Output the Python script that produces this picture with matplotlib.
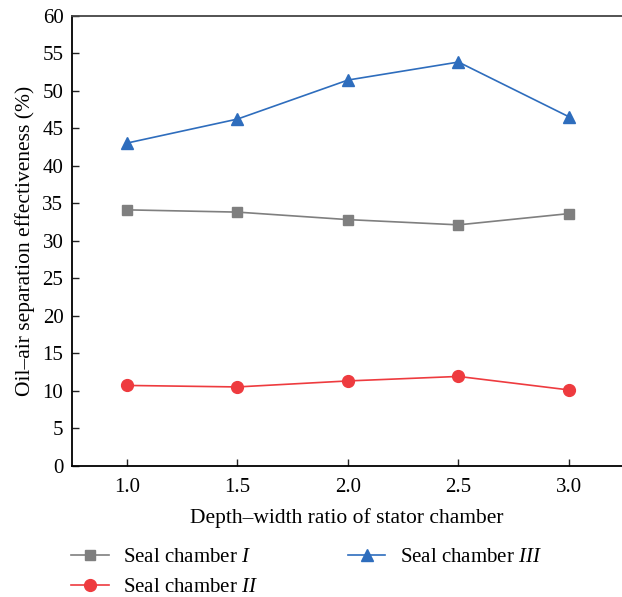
import matplotlib
matplotlib.use("Agg")
import matplotlib.pyplot as plt

plt.rcParams['font.family'] = ['Liberation Serif', 'DejaVu Serif']
plt.rcParams['mathtext.fontset'] = 'custom'
plt.rcParams['mathtext.rm'] = 'Liberation Serif'
plt.rcParams['mathtext.it'] = 'Liberation Serif:italic'

# Datos: relacion profundidad/ancho vs eficacia de separacion
ratio = [1.0, 1.5, 2.0, 2.5, 3.0]
chamber_1 = [34.1, 33.8, 32.8, 32.1, 33.6]
chamber_2 = [10.7, 10.5, 11.3, 11.9, 10.1]
chamber_3 = [43.0, 46.2, 51.4, 53.8, 46.5]

yticks = list(range(0, 61, 5))
xticks = [1.0, 1.5, 2.0, 2.5, 3.0]

fig = plt.figure(figsize=(6.22, 5.97), dpi=100)
ax = fig.add_axes([0.1153, 0.2199, 0.8847, 0.7541])

ax.plot(ratio, chamber_1, color='#7f7f7f', lw=1.2, marker='s', ms=7.5,
        label=r'Seal chamber $\mathit{I}$')
ax.plot(ratio, chamber_2, color='#ee3b3f', lw=1.2, marker='o', ms=8.5,
        label=r'Seal chamber $\mathit{II}$')
ax.plot(ratio, chamber_3, color='#2e6dbd', lw=1.2, marker='^', ms=9,
        label=r'Seal chamber $\mathit{III}$')

ax.set_xlim(0.75, 3.24)
ax.set_ylim(0, 60)
ax.set_xticks(xticks)
ax.set_xticklabels(['%.1f' % v for v in xticks])
ax.set_yticks(yticks)
ax.tick_params(direction='in', length=5, width=1, labelsize=15, color='#222222')
ax.tick_params(axis='x', pad=9)
ax.tick_params(axis='y', pad=6)

ax.spines['right'].set_visible(False)
for side in ['left', 'bottom', 'top']:
    ax.spines[side].set_linewidth(1.3)
ax.spines['top'].set_color('#444444')

ax.set_xlabel(u'Depth\u2013width ratio of stator chamber', fontsize=15.5, labelpad=8)
ax.set_ylabel(u'Oil\u2013air separation effectiveness (%)', fontsize=15.5, labelpad=5)

ax.legend(loc='upper left', bbox_to_anchor=(-0.035, -0.14), ncol=2, frameon=False,
          fontsize=15, handlelength=1.8, columnspacing=4.3, labelspacing=0.5,
          handletextpad=0.7)

fig.savefig('out.png', dpi=100)
